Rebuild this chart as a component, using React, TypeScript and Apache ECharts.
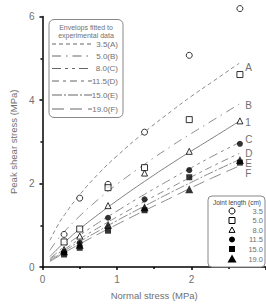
import React, { useEffect, useRef } from "react";
import * as echarts from "echarts";

// Test data: normal stress (MPa) and peak shear stress (MPa) for each joint length
const normalStress = [0.29, 0.5, 0.88, 1.37, 1.97, 2.65];
const jointLengths = ["3.5", "5.0", "8.0", "11.5", "15.0", "19.0"];
const shear35 = [0.78, 1.65, 1.98, 3.23, 5.07, 6.19];
const shear50 = [0.6, 0.91, 1.9, 2.38, 3.53, 4.61];
const shear80 = [0.42, 0.74, 1.47, 2.25, 2.77, 3.5];
const shear115 = [0.35, 0.58, 1.18, 1.62, 2.32, 2.95];
const shear150 = [0.3, 0.46, 0.87, 1.36, 2.15, 2.5];
const shear190 = [0.38, 0.53, 1.01, 1.43, 1.86, 2.56];

// Fitted envelopes
const envStress = [0.1, 0.2, 0.3, 0.5, 0.75, 1.0, 1.37, 1.75, 2.0, 2.3, 2.64];
const envA = [0.64, 0.98, 1.26, 1.73, 2.23, 2.66, 3.23, 3.76, 4.09, 4.46, 4.88];
const envB = [0.4, 0.65, 0.86, 1.22, 1.62, 1.98, 2.46, 2.92, 3.2, 3.53, 3.9];
const env1 = [0.25, 0.43, 0.6, 0.91, 1.26, 1.59, 2.05, 2.5, 2.78, 3.11, 3.49];
const envC = [0.2, 0.35, 0.5, 0.76, 1.06, 1.34, 1.74, 2.13, 2.38, 2.67, 2.98];
const envD = [0.17, 0.31, 0.43, 0.67, 0.94, 1.2, 1.57, 1.93, 2.16, 2.43, 2.72];
const envE = [0.15, 0.27, 0.39, 0.61, 0.86, 1.11, 1.46, 1.81, 2.03, 2.29, 2.57];
const envF = [0.13, 0.24, 0.35, 0.55, 0.79, 1.02, 1.35, 1.68, 1.9, 2.15, 2.42];

const envLabels = ["A", "B", "1", "C", "D", "E", "F"];
const envLegend = ["3.5(A)", "5.0(B)", "8.0(C)", "11.5(D)", "15.0(E)", "19.0(F)"];
const xTicks = [0, 1, 2, 3];
const yTicks = [0, 2, 4, 6];

const FONT = "Liberation Sans, Arial, sans-serif";
const GREY = "#707070";
const LINE_GREY = "#8a8a8a";

const dashA = [4, 3];
const dashB = [9, 5, 1.5, 5];
const dash1: any = "solid";
const dashC = [9, 4, 3, 4, 3, 4];
const dashD = [7, 4, 3, 4];
const dashE = [10, 2, 2, 2];
const dashF = [12, 6];
const dashes = [dashA, dashB, dash1, dashC, dashD, dashE, dashF];
const envData = [envA, envB, env1, envC, envD, envE, envF];
const labelOffsets = [[0, 4], [0, 1], [0, 1], [0, -3], [0, 0], [0, 4], [0, 8]];

const shearData = [shear35, shear50, shear80, shear115, shear150, shear190];
const markerShapes = ["circle", "rect", "triangle", "circle", "rect", "triangle"];
const markerFilled = [false, false, false, true, true, true];
const markerSizes = [6, 6, 6, 6, 6, 8];

export default function App() {
  const ref = useRef<HTMLDivElement>(null);

  useEffect(() => {
    if (!ref.current) return;
    const chart = echarts.init(ref.current, undefined, { renderer: "svg" });

    const lineSeries = envData.map((vals, i) => ({
      type: "line",
      name: envLabels[i],
      data: envStress.map((x, j) => [x, vals[j]]),
      smooth: true,
      showSymbol: false,
      silent: true,
      lineStyle: { color: i === 2 ? "#808080" : LINE_GREY, width: 1, type: dashes[i] },
      endLabel: {
        show: true,
        formatter: envLabels[i],
        color: GREY,
        fontSize: 10,
        lineHeight: 9,
        fontFamily: FONT,
        distance: 6,
        offset: labelOffsets[i],
      },
      z: 2,
    }));

    const scatterSeries = shearData.map((vals, i) => ({
      type: "scatter",
      name: jointLengths[i],
      data: normalStress.map((x, j) => [x, vals[j]]),
      symbol: markerShapes[i],
      symbolSize: markerSizes[i],
      clip: false,
      itemStyle: markerFilled[i]
        ? { color: "#000", borderColor: "#000", borderWidth: 0 }
        : { color: "#fff", borderColor: "#000", borderWidth: 1 },
      z: 5,
    }));

    // Legend 1: envelopes
    const leg1: any[] = [
      {
        type: "rect",
        shape: { x: 49, y: 19.5, width: 74, height: 98, r: 5 },
        style: { fill: "#fff", stroke: "#888", lineWidth: 1 },
      },
      {
        type: "text",
        style: { text: "Envelops fitted to", x: 86, y: 27, align: "center", verticalAlign: "middle", fontSize: 7, fontFamily: FONT, fill: GREY },
      },
      {
        type: "text",
        style: { text: "experimental data", x: 86, y: 35, align: "center", verticalAlign: "middle", fontSize: 7, fontFamily: FONT, fill: GREY },
      },
    ];
    const legDashes = [dashA, dashB, dashC, dashD, dashE, dashF];
    const legRows = [44, 56, 68.5, 81, 95, 109];
    envLegend.forEach((t, i) => {
      leg1.push({
        type: "line",
        shape: { x1: 52, y1: legRows[i], x2: 92, y2: legRows[i] },
        style: { stroke: "#666", lineWidth: 1, lineDash: legDashes[i] },
      });
      leg1.push({
        type: "text",
        style: { text: t, x: 118, y: legRows[i], align: "right", verticalAlign: "middle", fontSize: 8, fontFamily: FONT, fill: GREY },
      });
    });

    // Legend 2: joint lengths
    const leg2: any[] = [
      {
        type: "rect",
        shape: { x: 208, y: 196, width: 57, height: 71, r: 4 },
        style: { fill: "#fff", stroke: "#888", lineWidth: 1 },
      },
      {
        type: "text",
        style: { text: "Joint length (cm)", x: 237, y: 202, align: "center", verticalAlign: "middle", fontSize: 6.5, fontFamily: FONT, fill: "#444" },
      },
    ];
    const leg2Rows = [211, 220.5, 230, 239.5, 249, 259];
    const mx = 232;
    jointLengths.forEach((t, i) => {
      const y = leg2Rows[i];
      const filled = markerFilled[i];
      const st = filled ? { fill: "#000", stroke: "#000", lineWidth: 0 } : { fill: "#fff", stroke: "#000", lineWidth: 1 };
      const s = i === 5 ? 4.5 : 3;
      if (markerShapes[i] === "circle") {
        leg2.push({ type: "circle", shape: { cx: mx, cy: y, r: s }, style: st });
      } else if (markerShapes[i] === "rect") {
        leg2.push({ type: "rect", shape: { x: mx - s, y: y - s, width: 2 * s, height: 2 * s }, style: st });
      } else {
        leg2.push({
          type: "polygon",
          shape: { points: [[mx, y - s], [mx + s, y + s * 0.8], [mx - s, y + s * 0.8]] },
          style: st,
        });
      }
      leg2.push({
        type: "text",
        style: { text: t, x: 263, y, align: "right", verticalAlign: "middle", fontSize: 7.5, fontFamily: FONT, fill: GREY },
      });
    });

    chart.setOption({
      animation: false,
      backgroundColor: "#fff",
      grid: { left: 33, right: -1.6, top: 16.5, bottom: 29, containLabel: false },
      xAxis: {
        type: "value",
        min: xTicks[0],
        max: xTicks[xTicks.length - 1],
        interval: 1,
        name: "Normal stress (MPa)",
        nameLocation: "middle",
        nameGap: 23,
        nameTextStyle: { color: GREY, fontSize: 9.5, fontFamily: FONT },
        axisLine: { show: true, lineStyle: { color: "#000", width: 1.5 } },
        axisTick: { show: true, length: 3, lineStyle: { color: "#000", width: 1.5 } },
        minorTick: { show: true, splitNumber: 2, length: 2, lineStyle: { color: "#000", width: 1.5 } },
        axisLabel: { color: GREY, fontSize: 10, fontFamily: FONT, margin: 7, showMaxLabel: false },
        splitLine: { show: false },
      },
      yAxis: {
        type: "value",
        min: yTicks[0],
        max: yTicks[yTicks.length - 1],
        interval: 2,
        name: "Peak shear stress (MPa)",
        nameLocation: "middle",
        nameGap: 20,
        nameRotate: 90,
        nameTextStyle: { color: GREY, fontSize: 9.5, fontFamily: FONT },
        axisLine: { show: true, lineStyle: { color: "#000", width: 1.5 } },
        axisTick: { show: true, length: 3, lineStyle: { color: "#000", width: 1.5 } },
        minorTick: { show: true, splitNumber: 2, length: 2, lineStyle: { color: "#000", width: 1.5 } },
        axisLabel: { color: GREY, fontSize: 10, fontFamily: FONT, margin: 8 },
        splitLine: { show: false },
      },
      graphic: [...leg1, ...leg2].map((g) => ({ ...g, z: 100 })),
      series: [...lineSeries, ...scatterSeries],
    } as any);

    return () => chart.dispose();
  }, []);

  return (
    <div
      ref={ref}
      style={{ position: "fixed", left: 0, top: 0, width: 266, height: 305 }}
    />
  );
}
